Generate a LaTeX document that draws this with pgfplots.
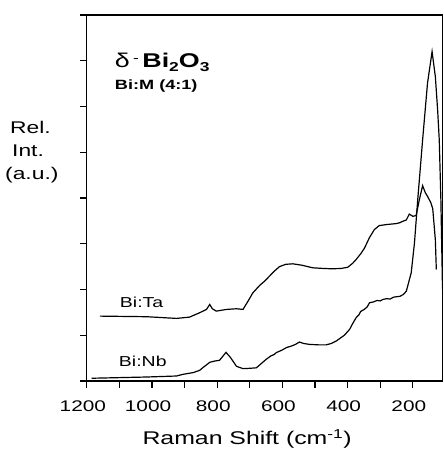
\documentclass[border=0pt]{standalone}
\usepackage{fontspec}
\setmainfont{Liberation Sans}[FakeStretch=1.35]
\usepackage{pgfplots}
\pgfplotsset{compat=1.18}
\newcommand{\sub}[1]{\raisebox{-4bp}{\fontsize{13}{13}\selectfont #1}}
\begin{document}
\begin{tikzpicture}[x=1bp,y=1bp]
\begin{axis}[
  at={(0,0)}, anchor=south west,
  scale only axis, width=356bp, height=366.7bp,
  x dir=reverse, xmin=110, xmax=1200, ymin=0, ymax=8,
  xtick={200,400,...,1200}, minor xtick={300,500,...,1100},
  ytick={0,...,8}, yticklabels={},
  xtick pos=bottom, ytick pos=left,
  tick align=outside,
  major tick length=7bp, minor tick length=7bp,
  every tick/.style={line width=1.2pt, black},
  axis line style={line width=1.3pt},
  /pgf/number format/assume math mode=true,
  /pgf/number format/1000 sep={},
  xticklabel style={font=\fontsize{15.5}{18}\selectfont, anchor=base, yshift=-24bp, xshift=-4bp},
  xlabel={Raman Shift (cm\textsuperscript{-1})},
  xlabel style={font=\fontsize{18.5}{22}\selectfont, at={(axis description cs:0.451,0)}, anchor=base, yshift=-64bp},
]
\addplot[black, line width=1.2pt] coordinates {
(1160,1.418) (1017,1.405) (925,1.368) (885,1.396) (854,1.492) (833,1.564)
(823,1.673) (815,1.579) (803,1.527) (772,1.564) (741,1.579) (721,1.564)
(706,1.739) (691,1.924) (670,2.088) (655,2.18) (640,2.29) (625,2.40) (609,2.50) (590,2.55) (568,2.561)
(540,2.53) (507,2.474) (475,2.46) (446,2.452) (420,2.46) (400,2.485) (385,2.57) (374,2.655) (360,2.78) (349,2.895) (333,3.135)
(318,3.31) (303,3.397) (280,3.42) (251,3.44) (240,3.46) (231,3.49) (220,3.52) (211,3.648) (200,3.60) (190,3.615)
(180,3.964) (170,4.269) (162,4.12) (155,4.036) (145,3.90) (139,3.767) (131,3.09) (128,2.437)
};
\addplot[black, line width=1.2pt] coordinates {
(1185,0.06) (1017,0.087) (925,0.109) (905,0.146) (874,0.183) (854,0.233)
(844,0.292) (823,0.408) (808,0.436) (793,0.452) (773,0.626) (759,0.51)
(741,0.321) (721,0.27) (701,0.277) (680,0.288) (665,0.38) (650,0.473) (635,0.55) (625,0.58)
(619,0.62) (600,0.68) (588,0.729) (570,0.77) (560,0.80) (548,0.851) (535,0.82) (517,0.80)
(490,0.79) (466,0.79) (450,0.82) (435,0.873) (420,0.95) (410,1.0) (400,1.08) (394,1.128)
(385,1.25) (374,1.383) (365,1.45) (360,1.52) (349,1.564) (340,1.62) (333,1.71) (320,1.73)
(310,1.76) (300,1.75) (292,1.782) (280,1.80) (270,1.79) (260,1.83) (251,1.841) (240,1.85) (229,1.891)
(220,1.963) (205,2.365) (195,3.019) (185,3.964) (170,5.273) (155,6.51)
(141,7.199) (131,6.654) (124,5.927) (119,5.273) (114,3.96) (109,2.0)
};
\end{axis}
\node[anchor=base west, inner sep=0, font=\fontsize{17}{20}\selectfont] at (-77,247.7) {Rel.};
\node[anchor=base west, inner sep=0, font=\fontsize{17}{20}\selectfont] at (-75,224.7) {Int.};
\node[anchor=base west, inner sep=0, font=\fontsize{17}{20}\selectfont] at (-82,201.7) {(a.u.)};
\node[anchor=base west, inner sep=0, font=\fontsize{20}{24}\selectfont] at (28,313.7) {δ\,\raisebox{5bp}{\fontsize{13}{13}\selectfont -}\,\textbf{Bi\sub{2}O\sub{3}}};
\node[anchor=base west, inner sep=0, font=\fontsize{13.5}{16}\selectfont\bfseries] at (28,291.7) {Bi:M (4:1)};
\node[anchor=base west, inner sep=0, font=\fontsize{14.5}{17}\selectfont] at (33,73.4) {Bi:Ta};
\node[anchor=base west, inner sep=0, font=\fontsize{14.5}{17}\selectfont] at (32,14.4) {Bi:Nb};
\path[use as bounding box] (-87,-70.3) rectangle (357,381.7);
\end{tikzpicture}
\end{document}
